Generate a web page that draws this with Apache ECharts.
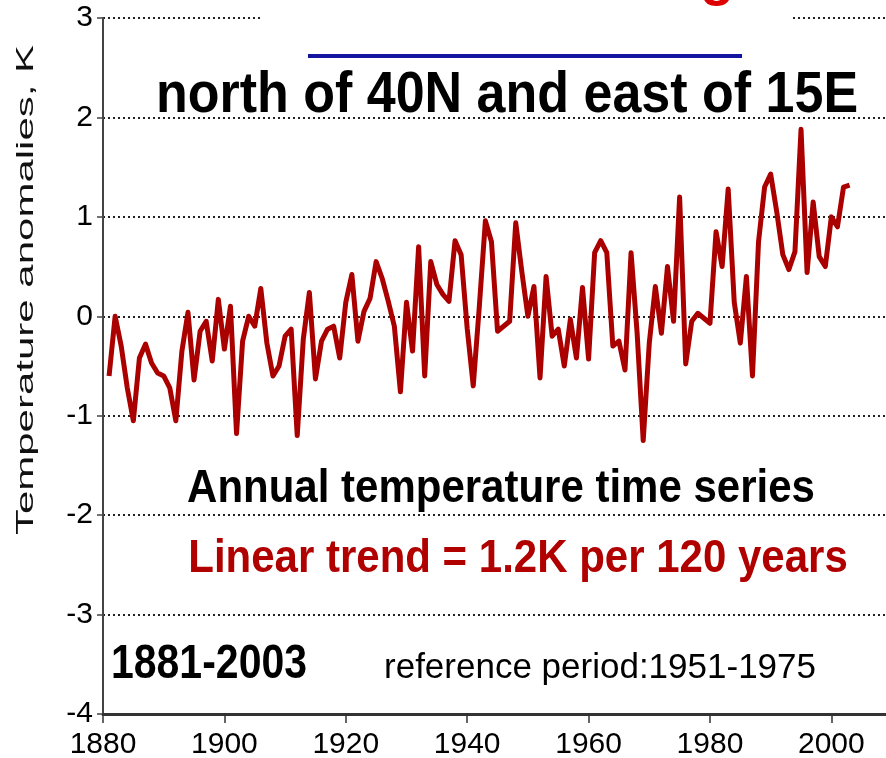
<!DOCTYPE html>
<html>
<head>
<meta charset="utf-8">
<script src="https://cdn.jsdelivr.net/npm/echarts@6/dist/echarts.min.js"></script>
<style>
  html, body { margin: 0; padding: 0; background: #fff; }
  #chart { width: 886px; height: 758px; }
</style>
</head>
<body>
<div id="chart"></div>
<script>
// Annual temperature anomalies (K), north of 40N and east of 15E, 1881-2003
const firstYear = 1881;
const anomalies = [
  // 1881-1900
  -0.60, 0.00, -0.30, -0.72, -1.05, -0.42, -0.28, -0.47, -0.57, -0.60,
  -0.72, -1.05, -0.35, 0.04, -0.64, -0.15, -0.05, -0.45, 0.17, -0.33,
  // 1901-1920
  0.10, -1.18, -0.25, 0.00, -0.10, 0.28, -0.27, -0.60, -0.50, -0.20,
  -0.13, -1.20, -0.23, 0.24, -0.63, -0.25, -0.13, -0.10, -0.42, 0.14,
  // 1921-1940
  0.42, -0.25, 0.05, 0.18, 0.55, 0.38, 0.15, -0.10, -0.76, 0.14,
  -0.35, 0.70, -0.60, 0.55, 0.32, 0.22, 0.15, 0.76, 0.62, -0.12,
  // 1941-1960
  -0.70, 0.10, 0.96, 0.75, -0.15, -0.10, -0.05, 0.94, 0.45, 0.00,
  0.30, -0.62, 0.40, -0.20, -0.13, -0.50, -0.03, -0.42, 0.29, -0.43,
  // 1961-1980
  0.64, 0.76, 0.64, -0.30, -0.25, -0.54, 0.64, -0.17, -1.25, -0.27,
  0.30, -0.17, 0.50, -0.05, 1.20, -0.48, -0.05, 0.03, -0.02, -0.07,
  // 1981-2000
  0.85, 0.50, 1.28, 0.14, -0.27, 0.40, -0.60, 0.75, 1.30, 1.43,
  1.05, 0.62, 0.47, 0.65, 1.88, 0.44, 1.15, 0.60, 0.50, 1.00,
  // 2001-2003
  0.90, 1.30, 1.32
];
const xTickYears = [1880, 1900, 1920, 1940, 1960, 1980, 2000];
const yTicks = [-4, -3, -2, -1, 0, 1, 2, 3];

const titleText = 'north of 40N and east of 15E';
const seriesText = 'Annual temperature time series';
const trendText = 'Linear trend = 1.2K per 120 years';
const spanText = '1881-2003';
const refText = 'reference period:1951-1975';
const yTitle = 'Temperature anomalies, K';

const FONT = '"Liberation Sans", Arial, Helvetica, sans-serif';
const points = anomalies.map((v, i) => [firstYear + i, v]);

function label(text, x, y, opts) {
  return Object.assign({
    type: 'text', x: x, y: y, z: 120,
    style: {
      text: text, font: opts.font, fill: opts.fill || '#000',
      align: 'center', verticalAlign: 'middle',
      textAlign: 'center', textVerticalAlign: 'middle'
    }
  }, opts.transform || {});
}

const chart = echarts.init(document.getElementById('chart'), null, { renderer: 'canvas' });
chart.setOption({
  animation: false,
  backgroundColor: '#fff',
  grid: { left: 103, right: 0, top: 18, bottom: 44, containLabel: false, outerBoundsMode: 'none' },
  xAxis: {
    type: 'value', min: 1880, max: 2009, interval: 20,
    axisLine: { show: true, onZero: false, lineStyle: { color: '#333', width: 3 } },
    axisTick: { show: true, customValues: xTickYears, length: 9, lineStyle: { color: '#333', width: 1.5 } },
    axisLabel: { customValues: xTickYears, margin: 16, fontSize: 30, color: '#000', fontFamily: FONT,
      formatter: v => String(v) },
    splitLine: { show: false }
  },
  yAxis: {
    type: 'value', min: -4, max: 3, interval: 1,
    axisLine: { show: true, onZero: false, lineStyle: { color: '#444', width: 2 } },
    axisTick: { show: true, length: 6, lineStyle: { color: '#444', width: 1.5 } },
    axisLabel: { margin: 10, fontSize: 30, color: '#000', fontFamily: FONT,
      formatter: v => yTicks.includes(v) ? String(v) : '' },
    splitLine: { show: true, lineStyle: { type: [2, 3], color: '#222', width: 2 } }
  },
  series: [{
    type: 'line',
    data: points,
    showSymbol: false,
    symbol: 'none',
    lineStyle: { color: '#aa0000', width: 5, join: 'round' },
    z: 5
  }],
  graphic: [
    // blank band behind the heading, hiding the top grid line
    { type: 'rect', z: 100, shape: { x: 262, y: 0, width: 528, height: 32 }, style: { fill: '#fff' } },
    // clipped red glyph at the upper edge
    label('g', 717, -21, { font: 'bold 56px ' + FONT, fill: '#dd0000' }),
    // blue rule above the heading
    { type: 'line', z: 110, shape: { x1: 308, y1: 56, x2: 742, y2: 56 }, style: { stroke: '#1414a0', lineWidth: 4 } },
    label(titleText, 507, 96, { font: 'bold 52px ' + FONT, transform: { scaleY: 1.12 } }),
    label(seriesText, 501, 489, { font: 'bold 42px ' + FONT, transform: { scaleY: 1.08 } }),
    label(trendText, 518, 559, { font: 'bold 42px ' + FONT, fill: '#b00000', transform: { scaleY: 1.12 } }),
    label(spanText, 209, 665, { font: 'bold 41px ' + FONT, transform: { scaleY: 1.18 } }),
    label(refText, 600, 668, { font: '35px ' + FONT }),
    label(yTitle, 26, 290, { font: '24px ' + FONT, fill: '#111', transform: { rotation: Math.PI / 2, scaleX: 1.75 } })
  ]
});
</script>
</body>
</html>
